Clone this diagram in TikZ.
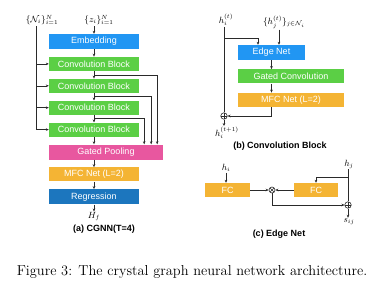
\documentclass[tikz,border=0pt]{standalone}
\usepackage{amsmath,amssymb}
\usepackage{fontspec}
\usepackage{xcolor}
\usepackage{tikz}
\usetikzlibrary{calc,positioning,arrows.meta}
\newfontfamily\boxfont{Liberation Sans}
\definecolor{Sky}{HTML}{2196F3}
\definecolor{Leaf}{HTML}{5BCF45}
\definecolor{Rose}{HTML}{E8579F}
\definecolor{Amber}{HTML}{F4B434}
\definecolor{Navy}{HTML}{1C76BE}
\definecolor{Ink}{HTML}{2A2A2A}

\begin{document}
\begin{tikzpicture}[x=1pt,y=-1pt,node distance=7.5pt,
  blk/.style={text=white,font=\boxfont\fontsize{9}{10}\selectfont,minimum width=90pt,minimum height=14pt,inner sep=0pt},
  subcap/.style={font=\boxfont\bfseries\fontsize{9}{10}\selectfont},
  lbl/.style={font=\small,inner sep=1pt},
  opl/.style={circle,draw=Ink,line width=.6pt,minimum size=6.5pt,inner sep=0pt,
    path picture={\draw[Ink,line width=.5pt] (path picture bounding box.north)--(path picture bounding box.south) (path picture bounding box.west)--(path picture bounding box.east);}},
  otm/.style={circle,draw=Ink,line width=.6pt,minimum size=6pt,inner sep=0pt,
    path picture={\draw[Ink,line width=.5pt] (path picture bounding box.north west)--(path picture bounding box.south east) (path picture bounding box.south west)--(path picture bounding box.north east);}},
  arr/.style={-{Stealth[length=3pt,width=2.6pt]},line width=.6pt,draw=Ink},
  ln/.style={line width=.6pt,draw=Ink}]
\useasboundingbox (0,0) rectangle (380,289);
\node[lbl] (nset) at (42,20) {$\{\mathcal{N}_i\}_{i=1}^N$};
\node[lbl] (zset) at (99,20) {$\{z_i\}_{i=1}^N$};
\node[blk,fill=Sky,minimum height=15pt] (embed) at (94,41.5) {Embedding};
\node[blk,fill=Leaf,below=of embed] (conv1) {Convolution Block};
\node[blk,fill=Leaf,below=of conv1] (conv2) {Convolution Block};
\node[blk,fill=Leaf,below=of conv2] (conv3) {Convolution Block};
\node[blk,fill=Leaf,below=of conv3] (conv4) {Convolution Block};
\node[blk,fill=Rose,minimum width=114pt,minimum height=15pt,below=of conv4.south west,anchor=north west] (gpool) {Gated Pooling};
\node[blk,fill=Amber,below=of gpool.south west,anchor=north west] (mfc) {MFC Net (L=2)};
\node[blk,fill=Navy,minimum height=15pt,below=of mfc] (reg) {Regression};
\node[lbl,below=7pt of reg] (hf) {$H_f$};
\node[subcap] (capa) at (104,229) {(a) CGNN(T=4)};
\draw[arr] (zset.south -| embed.north) -- (embed.north);
\foreach \c in {conv1,conv2,conv3,conv4}
  \draw[arr] ([xshift=-6pt]nset.south) |- (\c.west);
\foreach \a/\b in {embed/conv1,conv1/conv2,conv2/conv3,conv3/conv4,mfc/reg}
  \draw[arr] (\a) -- (\b);
\draw[arr] (conv4) -- (conv4 |- gpool.north);
\draw[arr] (mfc |- gpool.south) -- (mfc);
\draw[arr] (reg) -- (hf);
\foreach \a/\b/\s in {conv1/conv2/6,conv2/conv3/12,conv3/conv4/19}
  \draw[arr] ($(\a.south)!.5!(\b.north)$) -| ([xshift=-\s pt]gpool.north east);

\node[lbl] (hit) at (226,20) {$h_i^{(t)}$};
\node[lbl] (hjt) at (284,22) {$\{h_j^{(t)}\}_{j\in\mathcal{N}_i}$};
\node[blk,fill=Sky,minimum width=67pt,minimum height=15pt] (edge) at (271.5,52.5) {Edge Net};
\node[blk,fill=Leaf,minimum width=106pt,below=9pt of edge.south west,anchor=north west] (gconv) {Gated Convolution};
\node[blk,fill=Amber,minimum width=106pt,below=9pt of gconv] (mfcb) {MFC Net (L=2)};
\node[opl] (sumb) at (224,116) {};
\node[lbl] (hit1) at (227,133) {$h_i^{(t+1)}$};
\node[subcap] (capb) at (280,146) {(b) Convolution Block};
\coordinate (forkb) at (224,38);
\draw[ln] (hit.south -| sumb) -- (sumb);
\draw[arr] (forkb) -| ([xshift=-13.5pt]edge.north);
\draw[arr] ([xshift=-5pt]hjt.south) -- ([xshift=-5pt]hjt.south |- edge.north);
\draw[arr] (edge) -- (edge |- gconv.north);
\draw[arr] (edge |- gconv.south) -- (edge |- mfcb.north);
\draw[arr] (edge |- mfcb.south) |- (sumb);
\draw[arr] (sumb) -- (sumb |- hit1.north);

\node[lbl] (hi) at (226,168) {$h_i$};
\node[blk,fill=Amber,minimum width=45pt] (fci) at (227.5,190) {FC};
\node[otm] (prod) at (272,190) {};
\node[blk,fill=Amber,minimum width=44pt] (fcj) at (316,190) {FC};
\node[lbl] (hj) at (349,164) {$h_j$};
\node[opl] (sumc) at (348,205) {};
\node[lbl] (sij) at (349,222) {$s_{ij}$};
\node[subcap] (capc) at (279,234) {(c) Edge Net};
\coordinate (forkc) at (348,177);
\draw[arr] (hi) -- (hi |- fci.north);
\draw[arr] (fci) -- (prod);
\draw[arr] (fcj) -- (prod);
\draw[ln] (hj.south -| sumc) -- (sumc);
\draw[arr] (forkc) -| (fcj.north);
\draw[arr] (prod) |- (sumc);
\draw[arr] (sumc) -- (sumc |- sij.north);

\node[font=\fontsize{14.4}{17}\selectfont] (fig) at (192,272) {Figure 3: The crystal graph neural network architecture.};
\end{tikzpicture}
\end{document}
